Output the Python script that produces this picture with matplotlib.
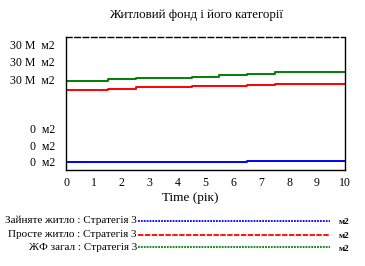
import matplotlib
matplotlib.use('Agg')
import matplotlib.pyplot as plt
from matplotlib.lines import Line2D

plt.rcParams['font.family'] = ['Liberation Serif', 'DejaVu Serif']

# Житловий фонд, модельні дані (М м2), значення по роках
years = [0, 1, 2, 3, 4, 5, 6, 7, 8, 9, 10]
occupied = [0.1, 0.1, 0.1, 0.1, 0.1, 0.1, 0.1, 0.5, 0.5, 0.5, 0.5]
empty = [26.5, 26.5, 26.8, 27.3, 27.3, 27.8, 27.8, 28.3, 28.6, 28.6, 28.6]
total = [29.7, 29.7, 30.3, 30.7, 30.9, 31.0, 31.8, 32.2, 32.8, 33.0, 33.0]

series_labels = ['Зайняте житло : Стратегія 3',
                 'Просте житло : Стратегія 3',
                 'ЖФ загал : Стратегія 3']
colors = ['#0000ff', '#ff0000', '#008000']
units = 'м2'
title = 'Житловий фонд і його категорії'
xlabel = 'Time (рік)'

# Vensim-like stacked scale labels
ytick_pos = [0, 5.9, 12.1, 30, 36.6, 42.8]
ytick_labels = ['0  м2', '0  м2', '0  м2', '30 M  м2', '30 M  м2', '30 M  м2']

fig = plt.figure(figsize=(3.65, 2.66), dpi=100)
ax = fig.add_axes([0.181, 0.361, 0.764, 0.500])

for vals, c in zip([occupied, empty, total], colors):
    ax.plot(years, vals, color=c, lw=1.4, drawstyle='steps-mid')

ax.set_xlim(0, 10)
ax.set_ylim(-2.93, 45.73)
ax.set_xticks(years)
ax.set_xticklabels([str(y) for y in years], fontsize=8.5)
ax.set_yticks(ytick_pos)
ax.set_yticklabels(ytick_labels, fontsize=8.5)
ax.tick_params(axis='y', length=0, pad=8)
ax.tick_params(axis='x', length=0, pad=5)

ax.spines['top'].set_linestyle((0, (4, 2)))
ax.spines['right'].set_linestyle((0, (1, 1)))
ax.spines['bottom'].set_linestyle((0, (1, 1)))
for s in ax.spines.values():
    s.set_linewidth(1.0)

fig.text(0.537, 0.944, title, ha='center', va='center', fontsize=9.3)
fig.text(0.52, 0.256, xlabel, ha='center', va='center', fontsize=9.5)

# legend, Vensim style
leg_y = [0.171, 0.117, 0.071]
styles = [(0, (1, 0.6)), (0, (3, 0.8)), (0, (1, 0.6))]
for lab, c, y, ls in zip(series_labels, colors, leg_y, styles):
    fig.text(0.375, y, lab, ha='right', va='center', fontsize=8)
    fig.add_artist(Line2D([0.378, 0.904], [y, y], color=c, lw=1.3, ls=ls))
    fig.text(0.928, y - 0.006, units, ha='left', va='center', fontsize=6.5, fontweight='bold')

fig.savefig('out.png', dpi=100)
